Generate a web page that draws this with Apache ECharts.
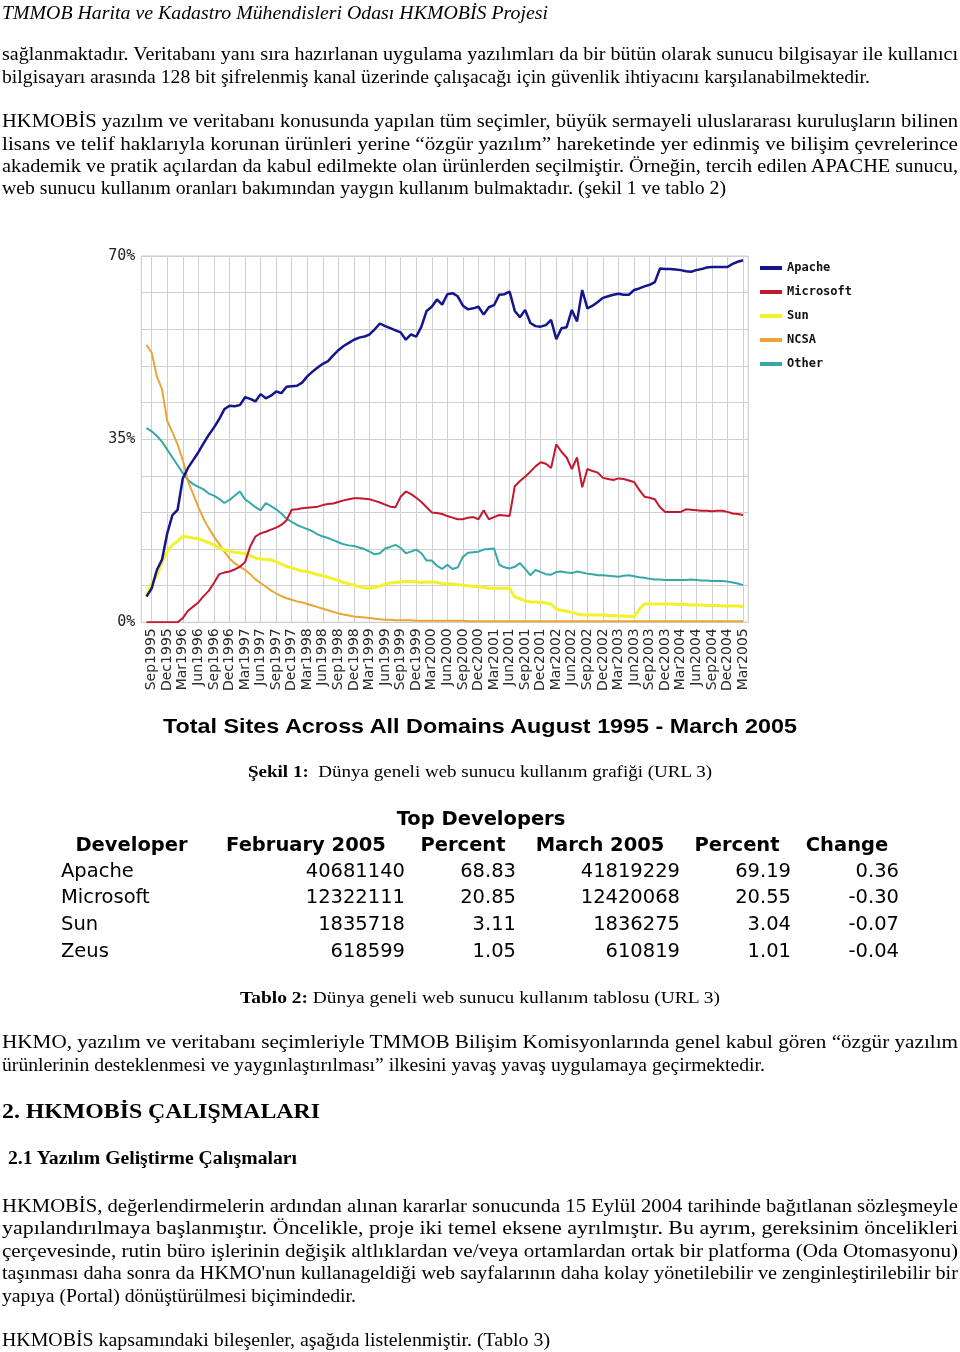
<!DOCTYPE html>
<html><head><meta charset="utf-8">
<script src="https://cdn.jsdelivr.net/npm/echarts@6/dist/echarts.min.js"></script>
<style>
html,body{margin:0;padding:0;background:#fff;width:960px;height:1352px;overflow:hidden;}
#chart{position:absolute;left:0;top:0;width:960px;height:1352px;}
#text{position:absolute;left:0;top:0;width:960px;height:1352px;}
.ln{position:absolute;white-space:nowrap;transform-origin:0 50%;font-family:'Liberation Serif','Times New Roman',serif;font-size:18px;line-height:22px;color:#000;}
.tb{position:absolute;white-space:nowrap;font-family:'DejaVu Sans',Verdana,sans-serif;font-size:19.5px;line-height:24px;color:#000;}
</style></head><body>
<div id="chart"></div>
<div id="text"></div>
<script>
// ---------- chart data (monthly, Aug 1995 .. Mar 2005) ----------
const seriesNames = ['Apache','Microsoft','Sun','NCSA','Other'];
const apache = [4.9,6.5,10,12,17,20.5,21.5,27.5,29.5,31,
32.5,34.2,35.8,37.2,38.8,40.7,41.4,41.3,41.5,43,
42.7,42.2,43.6,42.8,43.3,44.1,43.8,45,45.1,45.2,
45.8,47,47.9,48.7,49.4,49.9,51,52,52.8,53.4,
54,54.4,54.6,55,56,57.1,56.6,56.2,55.8,55.4,
54,55,54.6,56.5,59.5,60.3,61.7,60.7,62.7,62.9,
62.3,60.5,59.8,60,60.3,58.8,60.2,60.6,62.6,62.7,
63.2,59.5,58.3,59.7,57.2,56.6,56.5,56.8,57.8,54.1,
56.2,56.4,59.7,57.5,63.5,60,60.5,61.2,62,62.3,
62.6,62.8,62.6,62.6,63.5,63.8,64.2,64.5,65,67.6,
67.5,67.5,67.4,67.3,67.1,67,67.3,67.5,67.8,67.9,
67.9,67.9,67.9,68.5,68.9,69.2];
const microsoft = [0,0,0,0,0,0,0,0.8,2.2,3,
3.8,5,6,7.5,9.2,9.5,9.7,10.1,10.6,11.5,
14.5,16.4,17,17.3,17.7,18.1,18.6,19.5,21.5,21.6,
21.8,21.9,22,22.1,22.4,22.6,22.7,23,23.3,23.5,
23.7,23.7,23.6,23.5,23.2,22.9,22.5,22.1,22,24,
25,24.5,23.8,23,22,21,20.9,20.7,20.3,20,
19.7,19.7,20,20.1,19.7,21.4,19.7,20.1,20.5,20.4,
20.3,26,27,27.8,28.8,29.8,30.6,30.3,29.5,34,
32.6,31.5,29.3,31.5,25.8,29.3,28.9,28.6,27.6,27.4,
27.2,27.5,27.4,27.1,26.8,25.3,24,23.8,23.5,22,
21.1,21.1,21.1,21.1,21.6,21.5,21.4,21.3,21.3,21.2,
21.3,21.3,21.1,20.8,20.7,20.5];
const sun = [5.2,7.5,9,11.5,13.5,14.8,15.5,16.4,16.3,16.1,
16,15.6,15.2,14.8,14.2,13.8,13.6,13.4,13.3,13.1,
12.7,12.3,12.1,12,11.9,11.6,11.1,10.7,10.4,10.1,
9.8,9.7,9.4,9.1,8.9,8.6,8.3,8,7.6,7.4,
7.1,6.8,6.6,6.5,6.7,6.9,7.3,7.5,7.6,7.7,
7.8,7.8,7.7,7.6,7.7,7.7,7.6,7.4,7.3,7.3,
7.2,7.1,7.0,6.9,6.8,6.7,6.5,6.5,6.5,6.5,
6.5,4.8,4.5,4.1,3.9,3.9,3.8,3.7,3.5,2.5,
2.3,2.1,1.9,1.6,1.4,1.4,1.4,1.4,1.4,1.3,
1.3,1.2,1.2,1.1,1.1,2.5,3.5,3.5,3.5,3.5,
3.5,3.5,3.4,3.4,3.4,3.3,3.3,3.3,3.2,3.2,
3.2,3.1,3.1,3.1,3.1,3.0];
const ncsa = [53,51.5,47,44.5,38.5,36.3,34,31,27,24.5,
22,19.8,18,16.4,15,13.5,12.2,11.3,10.6,10,
9.2,8.2,7.5,6.8,6.1,5.5,5,4.6,4.3,4.0,
3.8,3.5,3.2,2.9,2.6,2.3,2.0,1.7,1.5,1.3,
1.1,1.0,0.9,0.8,0.7,0.6,0.5,0.5,0.4,0.4,
0.4,0.4,0.3,0.3,0.3,0.3,0.3,0.3,0.3,0.3,
0.3,0.3,0.2,0.2,0.2,0.2,0.2,0.2,0.2,0.2,
0.2,0.2,0.2,0.2,0.2,0.2,0.2,0.2,0.2,0.2,
0.2,0.2,0.2,0.2,0.2,0.2,0.2,0.2,0.2,0.2,
0.2,0.2,0.2,0.2,0.2,0.2,0.2,0.2,0.2,0.2,
0.2,0.2,0.2,0.2,0.2,0.2,0.2,0.2,0.2,0.2,
0.2,0.2,0.2,0.2,0.2,0.2];
const other = [37.1,36.5,35.6,34.5,33,31.5,30,28.5,27.2,26.4,
25.9,25.4,24.6,24.2,23.6,22.8,23.4,24.2,25,23.5,
22.8,22,21.4,22.8,22.2,21.6,20.8,19.8,19.2,18.6,
18.2,17.8,17.4,16.8,16.4,16.1,15.7,15.3,14.9,14.7,
14.6,14.3,14,13.5,13,13.2,14.1,14.4,14.8,14.2,
13.2,13.5,13.9,13.2,11.8,11.8,10.8,10.2,11,10.2,
10.5,12.5,13.3,13.4,13.5,13.9,14,14.1,11,10.5,
10.3,10.6,11.3,10.2,9,10,9.6,9.2,9.1,9.6,
9.7,9.5,9.4,9.7,9.5,9.3,9.2,9.0,9.0,8.9,
8.8,8.7,8.9,9.0,8.8,8.6,8.5,8.3,8.2,8.2,
8.1,8.1,8.1,8.1,8.1,8.2,8.1,8.0,8.0,7.9,
7.9,7.9,7.8,7.6,7.4,7.1];
const seriesColors = ['#14148c','#c4182e','#f2f22a','#e9a636','#36a8a8'];
const yTickLabels = [0,35,70];

// axis months: Jul 1995 .. Apr 2005 (one empty month at each end of the plot)
const monthNames = ['Jan','Feb','Mar','Apr','May','Jun','Jul','Aug','Sep','Oct','Nov','Dec'];
const categories = [];
for (let y = 1995, m = 6; y < 2005 || (y === 2005 && m <= 3); ) {
  categories.push(monthNames[m] + y);
  m++; if (m > 11) { m = 0; y++; }
}
const isQuarter = (i, v) => /^(Mar|Jun|Sep|Dec)/.test(categories[i]);
const pad = arr => [null].concat(arr, [null]);

const chart = echarts.init(document.getElementById('chart'), null, {renderer: 'canvas'});
const dataByName = {Apache: apache, Microsoft: microsoft, Sun: sun, NCSA: ncsa, Other: other};
const drawOrder = ['Other','NCSA','Sun','Microsoft','Apache'];
chart.setOption({
  animation: false,
  backgroundColor: 'transparent',
  grid: {left: 141.3, right: 211.8, top: 256, bottom: 729.7, show: true, borderColor: '#c8c8c8', borderWidth: 1},
  legend: {
    orient: 'vertical', left: 755, top: 256, itemWidth: 22, itemHeight: 4, itemGap: 10, icon: 'rect',
    data: seriesNames,
    textStyle: {fontFamily: 'DejaVu Sans Mono', fontSize: 12, fontWeight: 'bold', color: '#111', lineHeight: 14}
  },
  xAxis: {
    type: 'category', data: categories, boundaryGap: false,
    axisLine: {show: false}, axisTick: {show: false},
    axisLabel: {interval: isQuarter, rotate: 90, fontFamily: 'DejaVu Sans', fontSize: 14, color: '#2a2a2a', margin: 6},
    splitLine: {show: true, interval: isQuarter, lineStyle: {color: '#cfcfcf', width: 1}}
  },
  yAxis: {
    type: 'value', min: 0, max: 70, interval: 7,
    axisLine: {show: false}, axisTick: {show: false},
    axisLabel: {formatter: v => yTickLabels.indexOf(v) >= 0 ? v + '%' : '', fontFamily: 'DejaVu Sans Mono', fontSize: 15, color: '#222', margin: 6},
    splitLine: {lineStyle: {color: '#cfcfcf', width: 1}}
  },
  series: drawOrder.map(n => {
    const c = seriesColors[seriesNames.indexOf(n)];
    return {
      name: n, type: 'line', data: pad(dataByName[n]), symbol: 'none', connectNulls: false,
      lineStyle: {color: c, width: n === 'Sun' ? 3 : (n === 'Apache' ? 2.5 : 2)}, itemStyle: {color: c}
    };
  })
});

// ---------- table data ----------
const developers = ['Apache','Microsoft','Sun','Zeus'];
const feb2005 = ['40681140','12322111','1835718','618599'];
const febPercent = ['68.83','20.85','3.11','1.05'];
const mar2005 = ['41819229','12420068','1836275','610819'];
const marPercent = ['69.19','20.55','3.04','1.01'];
const change = ['0.36','-0.30','-0.07','-0.04'];

// ---------- text ----------
const box = document.getElementById('text');
function line(html, x, yc, w, opts) {
  opts = opts || {};
  const d = document.createElement('div');
  d.className = 'ln';
  d.innerHTML = html;
  const lh = opts.lh || 22;
  d.style.lineHeight = lh + 'px';
  if (opts.size) d.style.fontSize = opts.size + 'px';
  if (opts.family) d.style.fontFamily = opts.family;
  if (opts.bold) d.style.fontWeight = 'bold';
  if (opts.italic) d.style.fontStyle = 'italic';
  d.style.left = x + 'px';
  d.style.top = (yc - lh / 2) + 'px';
  box.appendChild(d);
  const nat = d.getBoundingClientRect().width;
  if (w && nat > 0) d.style.transform = 'scaleX(' + (w / nat).toFixed(4) + ')';
}
line('TMMOB Harita ve Kadastro Mühendisleri Odası HKMOBİS Projesi', 2, 13, 546, {italic: true});
line('sağlanmaktadır. Veritabanı yanı sıra hazırlanan uygulama yazılımları da bir bütün olarak sunucu bilgisayar ile kullanıcı', 2, 54, 956);
line('bilgisayarı arasında 128 bit şifrelenmiş kanal üzerinde çalışacağı için güvenlik ihtiyacını karşılanabilmektedir.', 2, 77, 868);
line('HKMOBİS yazılım ve veritabanı konusunda yapılan tüm seçimler, büyük sermayeli uluslararası kuruluşların bilinen', 2, 121, 956);
line('lisans ve telif haklarıyla korunan ürünleri yerine “özgür yazılım” hareketinde yer edinmiş ve bilişim çevrelerince', 2, 144, 956);
line('akademik ve pratik açılardan da kabul edilmekte olan ürünlerden seçilmiştir. Örneğin, tercih edilen APACHE sunucu,', 2, 166, 956);
line('web sunucu kullanım oranları bakımından yaygın kullanım bulmaktadır. (şekil 1 ve tablo 2)', 2, 188, 724);
line('Total Sites Across All Domains August 1995 - March 2005', 163, 726, 634, {family: "'Liberation Sans',Arial,sans-serif", size: 21, bold: true, lh: 26});
line('<b>Şekil 1:</b>&nbsp; Dünya geneli web sunucu kullanım grafiği (URL 3)', 248, 772, 464, {size: 17});
line('<b>Tablo 2:</b> Dünya geneli web sunucu kullanım tablosu (URL 3)', 240, 998, 480, {size: 17});
line('HKMO, yazılım ve veritabanı seçimleriyle TMMOB Bilişim Komisyonlarında genel kabul gören “özgür yazılım', 2, 1042, 956);
line('ürünlerinin desteklenmesi ve yaygınlaştırılması” ilkesini yavaş yavaş uygulamaya geçirmektedir.', 2, 1065, 763);
line('2. HKMOBİS ÇALIŞMALARI', 2, 1111, 318, {size: 22, bold: true, lh: 26});
line('2.1 Yazılım Geliştirme Çalışmaları', 8, 1158, 289, {size: 18, bold: true});
line('HKMOBİS, değerlendirmelerin ardından alınan kararlar sonucunda 15 Eylül 2004 tarihinde bağıtlanan sözleşmeyle', 2, 1206, 956);
line('yapılandırılmaya başlanmıştır. Öncelikle, proje iki temel eksene ayrılmıştır. Bu ayrım, gereksinim öncelikleri', 2, 1228, 956);
line('çerçevesinde, rutin büro işlerinin değişik altlıklardan ve/veya ortamlardan ortak bir platforma (Oda Otomasyonu)', 2, 1251, 956);
line('taşınması daha sonra da HKMO\'nun kullanageldiği web sayfalarının daha kolay yönetilebilir ve zenginleştirilebilir bir', 2, 1273, 956);
line('yapıya (Portal) dönüştürülmesi biçimindedir.', 2, 1296, 354);
line('HKMOBİS kapsamındaki bileşenler, aşağıda listelenmiştir. (Tablo 3)', 2, 1340, 548);

// table cells
function cell(txt, yc, pos, bold) {
  const d = document.createElement('div');
  d.className = 'tb';
  d.textContent = txt;
  d.style.top = (yc - 12) + 'px';
  if (bold) d.style.fontWeight = 'bold';
  if (pos.left !== undefined) d.style.left = pos.left + 'px';
  if (pos.right !== undefined) d.style.right = (960 - pos.right) + 'px';
  if (pos.center !== undefined) { d.style.left = pos.center + 'px'; d.style.transform = 'translateX(-50%)'; }
  box.appendChild(d);
}
cell('Top Developers', 819, {center: 481}, true);
const headers = ['Developer','February 2005','Percent','March 2005','Percent','Change'];
const headerCenters = [131.5, 306, 463, 600, 737, 847];
headers.forEach((h, i) => cell(h, 845, {center: headerCenters[i]}, true));
const rowY = [871, 897, 924, 951];
const rightEdges = [405, 516, 680, 791, 899];
developers.forEach((d, i) => {
  cell(d, rowY[i], {left: 61});
  [feb2005, febPercent, mar2005, marPercent, change].forEach((col, j) => cell(col[i], rowY[i], {right: rightEdges[j]}));
});
</script>
</body></html>
